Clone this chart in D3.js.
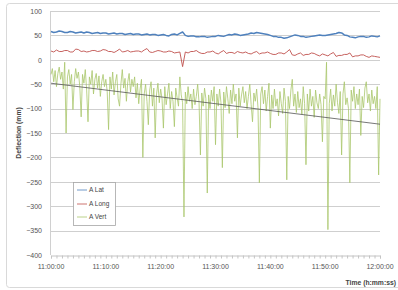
<!DOCTYPE html>
<html>
<head>
<meta charset="utf-8">
<script src="https://cdn.jsdelivr.net/npm/d3@7"></script>
<style>
html,body{margin:0;padding:0;background:#fff;}
svg{display:block;}
text{font-family:"Liberation Sans",Arial,sans-serif;}
</style>
</head>
<body>
<svg id="chart" width="398" height="290"></svg>
<script>
// ---- data ----
const xTickLabels = ["11:00:00","11:10:00","11:20:00","11:30:00","11:40:00","11:50:00","12:00:00"];
const xTickMinutes = [0,10,20,30,40,50,60];
const yTicks = [100,50,0,-50,-100,-150,-200,-250,-300,-350,-400];
const seriesNames = ["A Lat","A Long","A Vert"];

// A Lat, one value every 30 s (11:00 .. 12:00)
const aLat = [58,56,57,59,58,56,56,58,57,55,56,57,55,57,56,54,55,56,54,55,
              55,53,54,55,53,54,54,52,53,54,52,53,53,51,52,53,51,52,52,50,
              51,52,50,49,52,53,51,54,57,50,48,49,49,47,47,48,48,46,47,48,
              48,50,49,48,50,52,51,53,52,50,51,52,53,55,54,56,55,54,53,52,
              50,48,48,46,46,44,45,47,49,51,50,48,48,46,47,48,49,50,51,50,
              50,51,52,53,54,56,55,51,50,47,46,45,47,48,48,46,47,49,48,47,49];
// A Long, one value every 30 s
const aLong = [18,16,20,17,17,19,19,16,16,22,21,17,18,16,17,19,19,17,18,21,
               20,17,17,15,18,22,16,17,19,16,17,18,18,16,20,23,16,15,17,19,
               18,16,16,18,17,14,15,16,-14,16,14,17,17,19,15,13,13,16,16,18,
               14,12,16,19,13,15,15,13,17,15,14,16,13,12,15,17,12,14,14,16,
               13,11,11,14,14,12,16,21,10,9,12,14,9,11,11,14,13,10,8,12,
               10,8,12,15,7,9,9,11,11,14,6,8,8,10,10,7,5,8,7,6,5];
// A Vert, one value every 15 s
const aVert = [-30,-18,-45,-22,-55,-28,-15,-40,-25,-60,-5,-150,-35,-20,-50,-30,-102,-45,-18,-38,
               -25,-55,-117,-30,-48,-20,-62,-127,-35,-50,-22,-70,-40,-28,-58,-33,-75,-45,-30,-55,
               -40,-65,-143,-35,-60,-25,-72,-45,-30,-80,-95,-50,-20,-58,-38,-85,-45,-28,-66,-40,
               -55,-35,-78,-48,-90,-60,-40,-200,-70,-50,-85,-133,-62,-45,-95,-58,-160,-70,-48,-88,
               -60,-80,-140,-55,-92,-70,-48,-100,-65,-85,-137,-58,-78,-95,-35,-72,-88,-322,-66,-90,
               -55,-85,-70,-100,-60,-92,-75,-50,-88,-195,-68,-95,-58,-80,-273,-72,-100,-62,-85,-55,
               -174,-70,-95,-60,-88,-221,-66,-98,-55,-80,-110,-62,-90,-50,-85,-70,-160,-58,-95,-72,
               -55,-88,-65,-100,-75,-50,-92,-127,-68,-85,-60,-98,-252,-70,-55,-90,-62,-105,-75,-48,
               -140,-72,-100,-60,-95,-80,-115,-65,-90,-110,-58,-85,-246,-75,-100,-62,-40,-95,-70,-108,
               -65,-98,-80,-112,-55,-90,-215,-70,-105,-60,-95,-75,-118,-62,-88,-100,-70,-92,-168,-75,
               -80,-5,-348,-90,-60,-105,-72,-95,-50,-88,-110,-65,-195,-70,-45,-92,-78,-100,-252,-62,
               -85,-55,-100,-70,-92,-60,-155,-75,-98,-58,-45,-88,-70,-105,-62,-90,-75,-100,-55,-236,
               -80];
// linear trend of A Vert (start, end)
const trendMinutes = [0,60];
const trendValues = [-48,-132];

// ---- layout ----
const svg = d3.select("#chart");
const x = d3.scaleLinear().domain([0,60]).range([51,380]);
const y = d3.scaleLinear().domain([-400,100]).range([255,11]);

// outer frame
svg.append("rect").attr("x",6.5).attr("y",3.5).attr("width",400).attr("height",284)
  .attr("rx",3).attr("fill","#fff").attr("stroke","#d9d9d9").attr("stroke-width",1);

// gridlines
svg.append("g").selectAll("line").data(yTicks.filter(d=>d>-400)).join("line")
  .attr("x1",x(0)).attr("x2",x(60))
  .attr("y1",d=>Math.round(y(d))+0.5).attr("y2",d=>Math.round(y(d))+0.5)
  .attr("stroke","#cfcfcf").attr("stroke-width",1);

// y axis line
svg.append("line").attr("x1",x(0)-0.5).attr("x2",x(0)-0.5).attr("y1",y(100)).attr("y2",y(-400))
  .attr("stroke","#d0d0d0");

// bottom axis with minute ticks
const xAxis = d3.axisBottom(x).tickValues(d3.range(0,61,1)).tickSize(3).tickFormat("");
const gx = svg.append("g").attr("transform",`translate(0,${Math.round(y(-400))+0.5})`).call(xAxis);
gx.select(".domain").attr("stroke","#c4c4c4");
gx.selectAll(".tick line").attr("stroke","#c4c4c4");

// x tick labels
svg.append("g").selectAll("text").data(xTickMinutes).join("text")
  .attr("x",d=>x(d)).attr("y",269).attr("text-anchor","middle")
  .attr("font-size",7).attr("fill","#555")
  .text((d,i)=>xTickLabels[i]);

// y tick labels
const yAxis = d3.axisLeft(y).tickValues(yTicks).tickSize(0).tickPadding(9);
const gy = svg.append("g").attr("transform",`translate(${x(0)},0)`).call(yAxis);
gy.select(".domain").remove();
gy.selectAll("text").attr("font-size",7).attr("fill","#555")
  .attr("font-family","Liberation Sans, Arial, sans-serif");

// axis titles
svg.append("text").attr("x",396).attr("y",285).attr("text-anchor","end")
  .attr("font-size",6.8).attr("font-weight","bold").attr("fill","#444").text("Time (h:mm:ss)");
svg.append("text").attr("transform","translate(21,133) rotate(-90)").attr("text-anchor","middle")
  .attr("font-size",6.8).attr("font-weight","bold").attr("fill","#444").text("Deflection (mm)");

// series
const line = d3.line().x(d=>x(d[0])).y(d=>y(d[1]));
const vertPts = aVert.map((v,i)=>[i*0.25,v]);
const latPts = aLat.map((v,i)=>[i*0.5,v]);
const longPts = aLong.map((v,i)=>[i*0.5,v]);

svg.append("path").datum(vertPts).attr("d",line).attr("fill","none")
  .attr("stroke","#a9c66c").attr("stroke-width",0.8).attr("stroke-linejoin","round");
svg.append("path").datum(trendMinutes.map((m,i)=>[m,trendValues[i]])).attr("d",line)
  .attr("fill","none").attr("stroke","#555").attr("stroke-width",0.8);
svg.append("path").datum(longPts).attr("d",line).attr("fill","none")
  .attr("stroke","#c0504d").attr("stroke-width",0.9).attr("stroke-linejoin","round");
svg.append("path").datum(latPts).attr("d",line).attr("fill","none")
  .attr("stroke","#4f81bd").attr("stroke-width",1.5).attr("stroke-linejoin","round");

// legend
const colors = ["#4f81bd","#c0504d","#a9c66c"];
const lg = svg.append("g");
lg.append("rect").attr("x",73.5).attr("y",182.5).attr("width",42).attr("height",43)
  .attr("fill","#fff").attr("stroke","#a6a6a6").attr("stroke-width",0.8);
const ly = [190,204,217];
lg.selectAll("line").data(seriesNames).join("line")
  .attr("x1",77).attr("x2",87).attr("y1",(d,i)=>ly[i]).attr("y2",(d,i)=>ly[i])
  .attr("stroke",(d,i)=>colors[i]).attr("stroke-width",0.8);
lg.selectAll("text").data(seriesNames).join("text")
  .attr("x",89).attr("y",(d,i)=>ly[i]+2.3).attr("font-size",6.5).attr("fill","#444")
  .text(d=>d);
</script>
</body>
</html>
